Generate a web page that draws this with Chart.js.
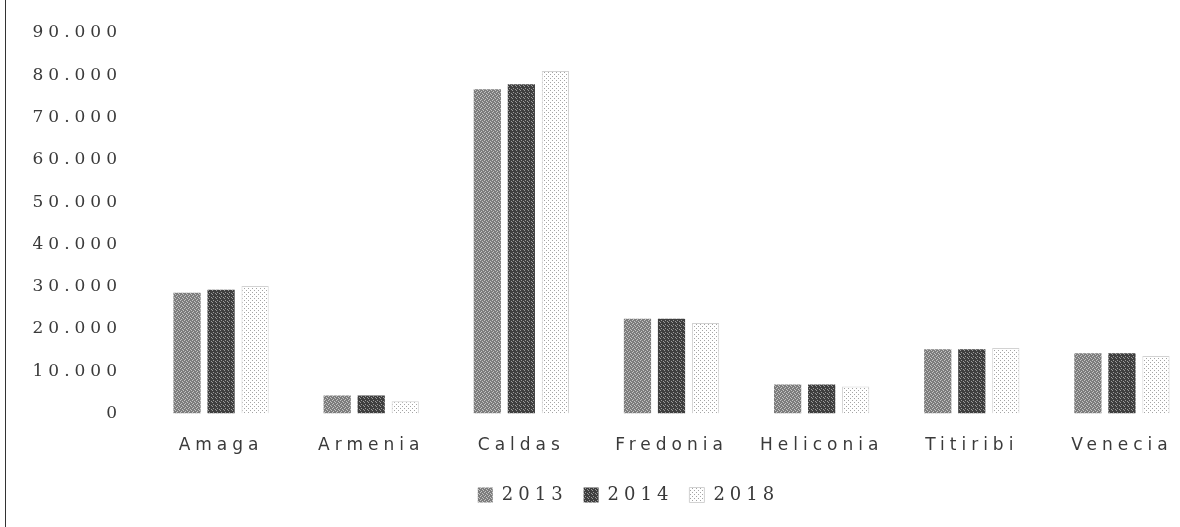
<!DOCTYPE html>
<html>
<head>
<meta charset="utf-8">
<script src="https://cdn.jsdelivr.net/npm/chart.js@4.4.1/dist/chart.umd.min.js"></script>
<style>
  html, body { margin: 0; padding: 0; background: #fff; overflow: hidden; }
  .marco { position: relative; width: 1180px; height: 527px; overflow: hidden; }
  .marco::before { content: ''; position: absolute; left: 5px; top: 0; bottom: 0; border-left: 1px solid #333; z-index: 1; }
</style>
</head>
<body>
<div class="marco">
  <canvas id="graficoMunicipios" width="1205" height="527"></canvas>
</div>
<script>
  // Datos
  const municipios = ['Amaga', 'Armenia', 'Caldas', 'Fredonia', 'Heliconia', 'Titiribi', 'Venecia'];
  const anios = ['2013', '2014', '2018'];
  const valores2013 = [28600, 4300, 76700, 22400, 6900, 15200, 14300];
  const valores2014 = [29300, 4300, 77900, 22400, 6900, 15200, 14300];
  const valores2018 = [30200, 2900, 81000, 21400, 6400, 15500, 13600];
  const ticksY = [0, 10000, 20000, 30000, 40000, 50000, 60000, 70000, 80000, 90000];

  // Texturas tipo fotocopia (patrón fijo)
  function textura(fondo, punto, mapa) {
    const c = document.createElement('canvas');
    c.width = 4; c.height = 4;
    const g = c.getContext('2d');
    g.fillStyle = fondo;
    g.fillRect(0, 0, 4, 4);
    g.fillStyle = punto;
    mapa.forEach(p => g.fillRect(p[0], p[1], 1, 1));
    return g.createPattern(c, 'repeat');
  }
  const relleno2013 = textura('#7d7d7d', '#c4c4c4', [[0, 0], [2, 1], [1, 3], [3, 2]]);
  const relleno2014 = textura('#3f3f3f', '#9a9a9a', [[1, 0], [3, 1], [0, 2]]);
  const relleno2018 = textura('#ffffff', '#a5a5a5', [[0, 0], [2, 2]]);

  // letras separadas y leyenda corrida a la derecha
  const ajustes = {
    id: 'ajustes',
    beforeLayout(chart) { chart.ctx.letterSpacing = '5px'; },
    afterLayout(chart) {
      chart.legend.left += 30;
      chart.legend.right += 30;
    },
    beforeDraw(chart) { chart.ctx.letterSpacing = '5px'; }
  };

  const ctx = document.getElementById('graficoMunicipios').getContext('2d');
  new Chart(ctx, {
    type: 'bar',
    data: {
      labels: municipios,
      datasets: [
        { label: anios[0], data: valores2013, backgroundColor: relleno2013 },
        { label: anios[1], data: valores2014, backgroundColor: relleno2014 },
        { label: anios[2], data: valores2018, backgroundColor: relleno2018, borderColor: '#d2d2d2', borderWidth: 1 }
      ]
    },
    options: {
      responsive: false,
      animation: false,
      layout: { padding: { top: 33, right: 8, bottom: 13, left: 0 } },
      datasets: { bar: { categoryPercentage: 0.68, barPercentage: 0.8 } },
      plugins: {
        tooltip: { enabled: false },
        legend: {
          position: 'bottom',
          labels: {
            color: '#3a3a3a',
            font: { family: 'DejaVu Serif', size: 18 },
            boxWidth: 15,
            boxHeight: 15,
            padding: 16
          }
        }
      },
      scales: {
        x: {
          grid: { display: false },
          border: { display: false },
          ticks: {
            color: '#3a3a3a',
            padding: 14,
            font: { family: 'DejaVu Sans', size: 17 }
          }
        },
        y: {
          min: 0,
          max: 90000,
          afterFit(scale) { scale.width = 146; },
          afterBuildTicks(scale) { scale.ticks = ticksY.map(v => ({ value: v })); },
          grid: { display: false },
          border: { display: false },
          ticks: {
            color: '#3a3a3a',
            padding: 16,
            font: { family: 'DejaVu Serif', size: 17 },
            callback: v => v.toLocaleString('de-DE')
          }
        }
      }
    },
    plugins: [ajustes]
  });
</script>
</body>
</html>
